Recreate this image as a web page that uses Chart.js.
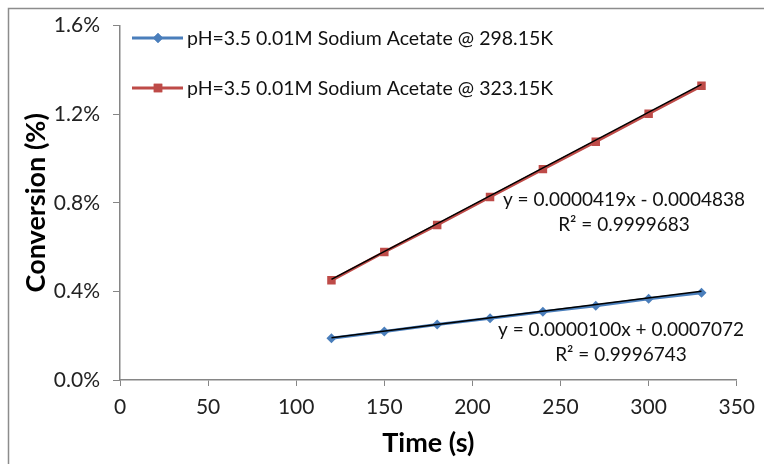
<!DOCTYPE html>
<html>
<head>
<meta charset="utf-8">
<script src="https://cdn.jsdelivr.net/npm/chart.js@4.4.0/dist/chart.umd.min.js"></script>
<style>
  html, body { margin: 0; padding: 0; background: #fff; overflow: hidden; }
  #wrap { position: relative; width: 764px; height: 464px; }
</style>
</head>
<body>
<div id="wrap"><canvas id="chart" width="764" height="464"></canvas></div>
<script>
// 반응 시간 (s)
const timeSec = [120, 150, 180, 210, 240, 270, 300, 330];
// 전환율 (분율, 축에서 % 로 표시)
const conv298 = [0.00188, 0.00219, 0.00251, 0.00279, 0.00308, 0.00335, 0.00367, 0.00394];
const conv323 = [0.00450, 0.00578, 0.00700, 0.00826, 0.00952, 0.01076, 0.01202, 0.01328];
// 선형 추세선 (기울기, 절편, R²)
const fit298 = [0.0000100, 0.0007072, 0.9996743];
const fit323 = [0.0000419, -0.0004838, 0.9999683];
const seriesNames = [
    'pH=3.5 0.01M Sodium Acetate @ 298.15K',
    'pH=3.5 0.01M Sodium Acetate @ 323.15K'
];
const xTicks = [0, 50, 100, 150, 200, 250, 300, 350];
const yTicks = [0, 0.004, 0.008, 0.012, 0.016];

const BLUE = '#4a7ebb';
const RED = '#be4b48';
const AXIS = '#868686';
const FONT = 'Lato, "Open Sans", sans-serif';

const toPoints = (xs, ys) => xs.map((x, i) => ({ x: x, y: ys[i] }));
// 추세선은 첫/마지막 측정 시간 사이로만 그림
const trendPoints = (fit) => [timeSec[0], timeSec[timeSec.length - 1]]
    .map(x => ({ x: x, y: fit[0] * x + fit[1] }));

const fmtCoef = (v) => v.toFixed(7);

// 테두리, 범례, 추세식 라벨
const decor = {
    id: 'decor',
    beforeDraw(chart) {
        const ctx = chart.ctx;
        ctx.save();
        ctx.strokeStyle = '#8c8c8c';
        ctx.lineWidth = 1.5;
        ctx.strokeRect(8.5, 8.5, 900, 600);
        ctx.restore();
    },
    afterDraw(chart) {
        const ctx = chart.ctx;
        ctx.save();

        // 범례
        const items = [
            { name: seriesNames[0], color: BLUE, shape: 'rectRot', r: 5, y: 38 },
            { name: seriesNames[1], color: RED, shape: 'rect', r: 6, y: 88 }
        ];
        items.forEach(it => {
            ctx.strokeStyle = it.color;
            ctx.lineWidth = 3;
            ctx.beginPath();
            ctx.moveTo(132, it.y);
            ctx.lineTo(183, it.y);
            ctx.stroke();
            ctx.fillStyle = it.color;
            Chart.helpers.drawPoint(ctx, { pointStyle: it.shape, radius: it.r, borderWidth: 0 }, 158, it.y);
            ctx.fill();
            ctx.fillStyle = '#111';
            ctx.font = '19.5px ' + FONT;
            ctx.textAlign = 'left';
            ctx.textBaseline = 'middle';
            ctx.fillText(it.name, 187, it.y + 1);
        });

        // 추세식
        const eqs = [
            { fit: fit323, cx: 624, y: 200 },
            { fit: fit298, cx: 621, y: 330 }
        ];
        ctx.fillStyle = '#111';
        ctx.font = '19px ' + FONT;
        ctx.textAlign = 'center';
        ctx.textBaseline = 'middle';
        eqs.forEach(e => {
            const sign = e.fit[1] < 0 ? ' - ' : ' + ';
            ctx.fillText('y = ' + fmtCoef(e.fit[0]) + 'x' + sign + fmtCoef(Math.abs(e.fit[1])), e.cx, e.y);
            ctx.fillText('R² = ' + fmtCoef(e.fit[2]), e.cx, e.y + 25);
        });
        ctx.restore();
    }
};

const config = {
    type: 'scatter',
    data: {
        datasets: [
            {
                label: seriesNames[0],
                data: toPoints(timeSec, conv298),
                showLine: true,
                borderColor: BLUE,
                backgroundColor: BLUE,
                borderWidth: 3,
                pointStyle: 'rectRot',
                pointRadius: 5,
                pointBorderWidth: 0,
                order: 2
            },
            {
                label: seriesNames[1],
                data: toPoints(timeSec, conv323),
                showLine: true,
                borderColor: RED,
                backgroundColor: RED,
                borderWidth: 3,
                pointStyle: 'rect',
                pointRadius: 6,
                pointBorderWidth: 0,
                order: 2
            },
            {
                label: 'trend298',
                data: trendPoints(fit298),
                showLine: true,
                borderColor: '#000',
                borderWidth: 1.5,
                pointRadius: 0,
                order: 1
            },
            {
                label: 'trend323',
                data: trendPoints(fit323),
                showLine: true,
                borderColor: '#000',
                borderWidth: 1.5,
                pointRadius: 0,
                order: 1
            }
        ]
    },
    options: {
        responsive: false,
        animation: false,
        layout: { padding: { top: 20, right: 21, left: 0, bottom: 0 } },
        plugins: {
            legend: { display: false },
            tooltip: { enabled: false }
        },
        scales: {
            x: {
                type: 'linear',
                min: 0,
                max: 350,
                afterBuildTicks: (s) => { s.ticks = xTicks.map(v => ({ value: v })); },
                afterFit: (s) => { s.height = 84; },
                border: { color: AXIS, width: 1.5 },
                grid: { drawOnChartArea: false, drawTicks: true, tickLength: 6, color: AXIS },
                ticks: { color: '#222', padding: 9, font: { family: FONT, size: 21 } },
                title: {
                    display: true,
                    text: 'Time (s)',
                    color: '#000',
                    padding: { top: 0, bottom: 5 },
                    font: { family: FONT, size: 27, weight: 'bold' }
                }
            },
            y: {
                min: 0,
                max: 0.016,
                afterBuildTicks: (s) => { s.ticks = yTicks.map(v => ({ value: v })); },
                afterFit: (s) => { s.width = 120; },
                border: { color: AXIS, width: 1.5 },
                grid: { drawOnChartArea: false, drawTicks: true, tickLength: 7, color: AXIS },
                ticks: {
                    color: '#222',
                    padding: 13,
                    font: { family: FONT, size: 21 },
                    callback: (v) => (v * 100).toFixed(1) + '%'
                },
                title: {
                    display: true,
                    text: 'Conversion (%)',
                    color: '#000',
                    padding: { top: 20, bottom: 0 },
                    font: { family: FONT, size: 27, weight: 'bold' }
                }
            }
        }
    },
    plugins: [decor]
};

new Chart(document.getElementById('chart'), config);
</script>
</body>
</html>
